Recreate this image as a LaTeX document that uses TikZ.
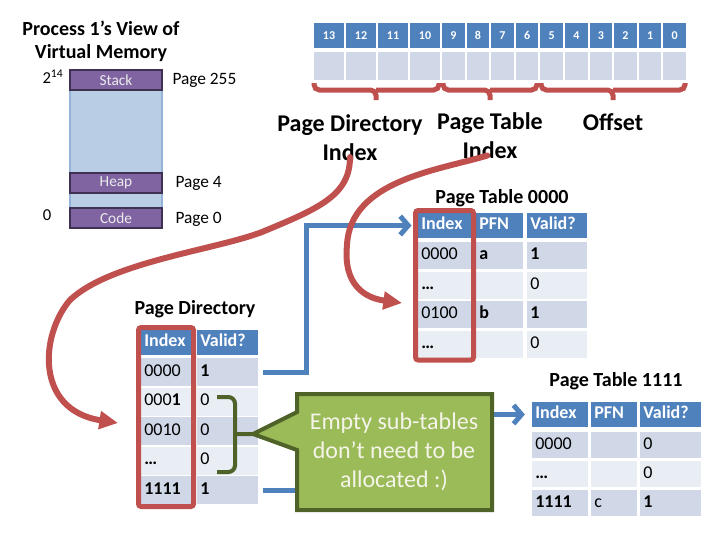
\documentclass[tikz,border=0pt]{standalone}
\usepackage{fontspec}
\setmainfont{Carlito}
\usetikzlibrary{arrows.meta,fit}

\definecolor{hdrblue}{HTML}{4F81BD}
\definecolor{rowdark}{HTML}{D0D8E8}
\definecolor{rowlight}{HTML}{E9EDF4}
\definecolor{selred}{HTML}{C0504D}
\definecolor{memblue}{HTML}{B9CDE5}
\definecolor{memedge}{HTML}{95B3D7}
\definecolor{segpurple}{HTML}{8064A2}
\definecolor{segedge}{HTML}{3F3151}
\definecolor{notegreen}{HTML}{9BBB59}
\definecolor{noteedge}{HTML}{4F6228}
\definecolor{notetext}{HTML}{F4F4E8}

\tikzset{every picture/.style={line width=0.75pt}}
\tikzset{
  title/.style={font=\bfseries\fontsize{15}{17.5}\selectfont, align=center, inner sep=0pt},
  field/.style={font=\bfseries\fontsize{18}{21.75}\selectfont, align=center, inner sep=0pt},
  pagelbl/.style={font=\fontsize{13}{15}\selectfont, anchor=west, inner sep=0pt},
  seg/.style={fill=segpurple, draw=segedge, line width=1.5pt, text=white!92!black, font=\fontsize{11.5}{13}\selectfont, minimum width=69pt, minimum height=15pt, inner sep=0pt},
  bithdr/.style={fill=hdrblue, text=white, font=\bfseries\fontsize{9}{10}\selectfont, minimum height=18.75pt, inner sep=0pt},
  bitval/.style={fill=rowdark, minimum height=21pt, inner sep=0pt},
  hdrcell/.style={fill=hdrblue, text=white, font=\bfseries\fontsize{13.5}{15}\selectfont, inner xsep=2.5pt, inner ysep=0pt, align=left, text height=9.5pt, text depth=3pt},
  cell/.style={font=\fontsize{13.5}{15}\selectfont, inner xsep=2.5pt, inner ysep=0pt, align=left, text height=9.5pt, text depth=3pt},
  selbox/.style={draw=selred, line width=3.75pt, rounded corners=2pt, inner sep=1.5pt},
  bracered/.style={draw=selred, line width=3.75pt, rounded corners=4pt},
  ptr/.style={draw=hdrblue, line width=3.75pt, -{Straight Barb[length=6pt,width=14pt]}},
  sel/.style={draw=selred, line width=4.5pt, line cap=round, -{Triangle[length=14pt,width=13pt]}}
}

\begin{document}
\begin{tikzpicture}[x=0.75pt,y=0.75pt,yscale=-1,xscale=1]
        \useasboundingbox (0,0) rectangle (720,540);

        % Process view of virtual memory
        \node[title] (vmtitle) at (101,41.5) {Process 1’s View of\\Virtual Memory};
        %Shape: Rectangle
        \draw [fill=memblue, draw=memedge, line width=1.5pt] (70,70) rectangle (162,228);
        \node[seg] (stack) at (116,80) {Stack};
        \node[seg] (heap) at (116,183) {Heap};
        \node[seg] (code) at (116,218) {Code};
        % Text Node
        \node[font=\fontsize{12.5}{14}\selectfont] (top) at (53,77) {2\textsuperscript{14}};
        \node[font=\fontsize{12.5}{14}\selectfont] (bottom) at (47,215) {0};
        \node[pagelbl] (p255) at (172,80) {Page 255};
        \node[pagelbl] (p4) at (175,183) {Page 4};
        \node[pagelbl] (p0) at (175,219) {Page 0};

        % Virtual address bits
        \foreach \b/\x/\w in {13/329/22.5pt, 12/361/22.5pt, 11/393/22.5pt, 10/425/22.5pt, 9/453.3/17pt, 8/477.9/17pt, 7/502.5/17pt, 6/527.1/17pt, 5/551.7/17pt, 4/576.3/17pt, 3/600.9/17pt, 2/625.5/17pt, 1/650.1/17pt, 0/674.7/17pt}
        {
          \node[bithdr, minimum width=\w] (b\b) at (\x,35.5) {\b};
          \node[bitval, minimum width=\w] (v\b) at (\x,66) {};
        }
        %Shape: Brace
        \draw[bracered] (314,83) -- (314,90) -- (376,90) -- (376,100) (376,90) -- (439,90) -- (439,83);
        \draw[bracered] (443,83) -- (443,90) -- (490,90) -- (490,100) (490,90) -- (537,90) -- (537,83);
        \draw[bracered] (541,83) -- (541,90) -- (613,90) -- (613,100) (613,90) -- (685,90) -- (685,83);
        % Text Node
        \node[field] (pdi) at (350,137.5) {Page Directory\\Index};
        \node[field] (ptx) at (490,136) {Page Table\\Index};
        \node[field] (off) at (613,122) {Offset};

        % Page Directory
        \node[title] (dtitle) at (195,309) {Page Directory};
        \node[hdrcell, text width=32.5pt, minimum height=18.75pt] (dhi) at (166,342.5) {Index};
        \node[hdrcell, text width=40.75pt, minimum height=18.75pt] (dhv) at (227.5,342.5) {Valid?};
        \foreach \r/\y/\f/\idx/\vld in {0/372/rowdark/0000/\textbf{1}, 1/401.5/rowlight/000\textbf{1}/0, 2/431/rowdark/0010/0, 3/460.5/rowlight/\textbf{…}/0, 4/490/rowdark/\textbf{1111}/\textbf{1}}
        {
          \node[cell, fill=\f, text width=32.5pt, minimum height=21pt] (d\r i) at (166,\y) {\idx};
          \node[cell, fill=\f, text width=40.75pt, minimum height=21pt] (d\r v) at (227.5,\y) {\vld};
        }
        \node[selbox, fit=(dhi)(d4i)] (dirsel) {};

        % Page Table 0000
        \node[title] (t0title) at (502,198) {Page Table 0000};
        \foreach \c/\x/\w/\t in {i/444.5/34.75pt/Index, p/499.5/30.25pt/PFN, v/557/40pt/Valid?}
          \node[hdrcell, text width=\w, minimum height=18.75pt] (t0h\c) at (\x,225.5) {\t};
        \foreach \r/\y/\f/\idx/\pfn/\vld in {0/255.5/rowdark/0000/\textbf{a}/\textbf{1}, 1/285/rowlight/\textbf{…}//0, 2/314.5/rowdark/0100/\textbf{b}/\textbf{1}, 3/344/rowlight/\textbf{…}//0}
        {
          \node[cell, fill=\f, text width=34.75pt, minimum height=20.25pt] (t0r\r i) at (444.5,\y) {\idx};
          \node[cell, fill=\f, text width=30.25pt, minimum height=20.25pt] (t0r\r p) at (499.5,\y) {\pfn};
          \node[cell, fill=\f, text width=40pt, minimum height=20.25pt] (t0r\r v) at (557,\y) {\vld};
        }
        \node[selbox, fit=(t0hi)(t0r3i)] (ptsel) {};

        % Page Table 1111
        \node[title] (t1title) at (616,381) {Page Table 1111};
        \foreach \c/\x/\w/\t in {i/560/37pt/Index, p/614/29.5pt/PFN, v/670.5/40.75pt/Valid?}
          \node[hdrcell, text width=\w, minimum height=18.75pt] (t1h\c) at (\x,414.5) {\t};
        \foreach \r/\y/\f/\idx/\pfn/\vld in {0/445/rowdark/0000//0, 1/474/rowlight/\textbf{…}//0, 2/503/rowdark/\textbf{1111}/c/\textbf{1}}
        {
          \node[cell, fill=\f, text width=37pt, minimum height=19.5pt] (t1r\r i) at (560,\y) {\idx};
          \node[cell, fill=\f, text width=29.5pt, minimum height=19.5pt] (t1r\r p) at (614,\y) {\pfn};
          \node[cell, fill=\f, text width=40.75pt, minimum height=19.5pt] (t1r\r v) at (670.5,\y) {\vld};
        }

        % Directory entries pointing to page tables
        \draw[ptr, shorten >=4.5pt] ([xshift=3pt]d0v.east) -- ++(44,0) |- (t0hi.west);
        \draw[ptr, shorten >=5pt] ([xshift=3pt]d4v.east) -- ++(60,0) |- (t1hi.west);

        %Shape: Brace
        \draw[draw=noteedge, line width=3pt, rounded corners=5pt] (217,397) -- (235,397) -- (235,472) -- (217,472) (235,434) -- (252,434);
        %Shape: Callout
        \draw[fill=notegreen, draw=noteedge, line width=3pt] (297,394) -- (492,394) -- (492,510) -- (297,510) -- (297,450) -- (253,434) -- (297,412) -- cycle;
        \node[font=\fontsize{18}{21.75}\selectfont, text=notetext, align=center] (note) at (394,452) {Empty sub-tables\\don’t need to be\\allocated :)};

        % Index fields selecting table rows
        \coordinate (dirtip) at (118,423);
        \coordinate (pttip) at (402,303);
        \draw[sel] ([yshift=-3pt]pdi.south) .. controls (350,195) and (320,208) .. (262,232) .. controls (215,250) and (110,262) .. (70,300) .. controls (40,335) and (35,410) .. (dirtip);
        \draw[sel] ([yshift=-3pt,xshift=-2pt]ptx.south) .. controls (440,170) and (350,180) .. (347,245) .. controls (343,285) and (365,298) .. (pttip);
\end{tikzpicture}
\end{document}
